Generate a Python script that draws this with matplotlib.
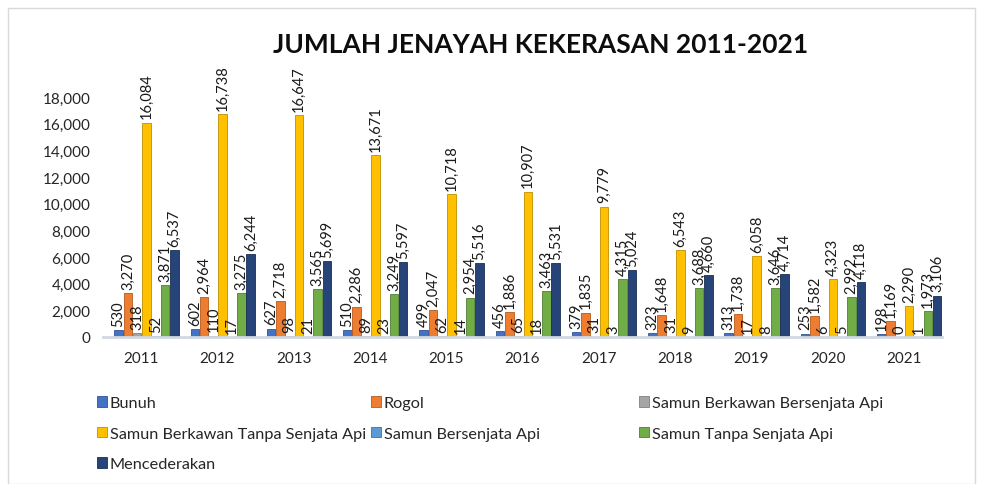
import numpy as np
import matplotlib.pyplot as plt
from matplotlib.patches import Rectangle

plt.rcParams['font.family'] = ['Lato', 'DejaVu Sans']

years = ['2011', '2012', '2013', '2014', '2015', '2016', '2017', '2018', '2019', '2020', '2021']

series_names = ['Bunuh', 'Rogol', 'Samun Berkawan Bersenjata Api',
                'Samun Berkawan Tanpa Senjata Api', 'Samun Bersenjata Api',
                'Samun Tanpa Senjata Api', 'Mencederakan']

bunuh = [530, 602, 627, 510, 499, 456, 379, 323, 313, 253, 198]
rogol = [3270, 2964, 2718, 2286, 2047, 1886, 1835, 1648, 1738, 1582, 1169]
samun_berkawan_api = [318, 110, 98, 89, 62, 65, 31, 31, 17, 6, 0]
samun_berkawan_tanpa = [16084, 16738, 16647, 13671, 10718, 10907, 9779, 6543, 6058, 4323, 2290]
samun_api = [52, 17, 21, 23, 14, 18, 3, 9, 8, 5, 1]
samun_tanpa = [3871, 3275, 3565, 3249, 2954, 3463, 4315, 3688, 3646, 2992, 1973]
mencederakan = [6537, 6244, 5699, 5597, 5516, 5531, 5024, 4660, 4714, 4118, 3106]

data = [bunuh, rogol, samun_berkawan_api, samun_berkawan_tanpa, samun_api, samun_tanpa, mencederakan]
colors = ['#4472C4', '#ED7D31', '#A5A5A5', '#FFC000', '#5B9BD5', '#70AD47', '#264478']
edges = ['#2F5597', '#B85A1B', '#7F7F7F', '#BF9000', '#2E75B6', '#507E32', '#1A2F54']

fig = plt.figure(figsize=(9.83, 4.85), dpi=100)
ax = fig.add_axes([103/983, 1-338/485, (942-103)/983, (338-98)/485])

x = np.arange(len(years))
w = 0.122
shift = 0.07  # the 3D floor in the original sits a little right of the labels
handles = []
for i, (vals, c, ec) in enumerate(zip(data, colors, edges)):
    pos = x + shift + (i - 3) * w
    b = ax.bar(pos, vals, w * 0.92, color=c, edgecolor=ec, linewidth=0.6, label=series_names[i])
    handles.append(b)
    for xp, v in zip(pos, vals):
        ax.annotate(f'{v:,}', (xp, v), xytext=(0, 3), textcoords='offset points',
                    rotation=90, ha='center', va='bottom', fontsize=10.5,
                    color='#1a1a1a', annotation_clip=False)

ax.set_xlim(-0.5, len(years) - 0.5)
ax.set_ylim(0, 18000)
ax.set_yticks(np.arange(0, 18001, 2000))
ax.set_yticklabels([f'{v:,}' for v in range(0, 18001, 2000)])
ax.set_xticks(x)
ax.set_xticklabels(years)
ax.tick_params(axis='both', length=0, labelsize=11, colors='#262626')
ax.tick_params(axis='y', pad=9)
ax.tick_params(axis='x', pad=10)
for s in ['top', 'right', 'left']:
    ax.spines[s].set_visible(False)
ax.spines['bottom'].set_color('#D0D8E4')
ax.spines['bottom'].set_linewidth(2)

fig.text(541/983, 1-45/485, 'JUMLAH JENAYAH KEKERASAN 2011-2021', ha='center', va='center',
         fontsize=19, fontweight='bold', color='#0d0d0d')

# legend laid out in rows like the original, one legend per column
cols = [([0, 3, 6], 97), ([1, 4], 371), ([2, 5], 639)]
for idx, xpx in cols:
    leg = fig.legend([handles[k] for k in idx], [series_names[k] for k in idx],
                     loc='upper left', bbox_to_anchor=(xpx/983, 1-397/485),
                     frameon=False, fontsize=11.7, handlelength=0.64, handleheight=0.64,
                     handletextpad=0.15, labelspacing=1.02, borderpad=0, borderaxespad=0)
    for t in leg.get_texts():
        t.set_color('#262626')

fig.patches.append(Rectangle((8/983, 0), (975-8)/983, 1-9/485, transform=fig.transFigure,
                             fill=False, edgecolor='#D9D9D9', linewidth=1))

fig.savefig('out.png', dpi=100)
